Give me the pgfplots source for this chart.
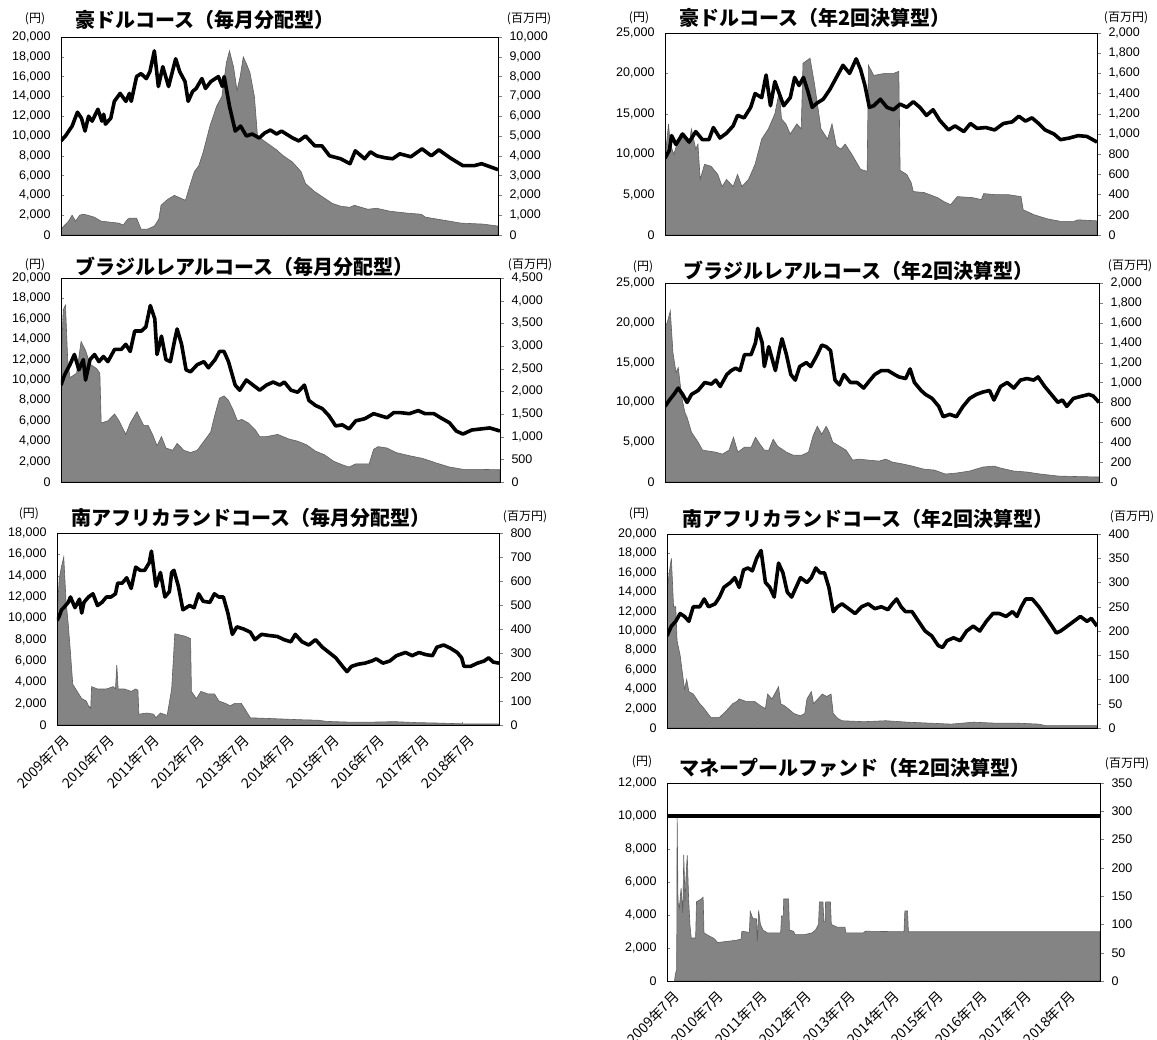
\documentclass[border=0pt]{standalone}
\usepackage{fontspec}
\setmainfont{Liberation Sans}
\newfontfamily\jp{Noto Sans CJK JP}
\usepackage{pgfplots}
\pgfplotsset{compat=1.18}
\definecolor{areagray}{RGB}{132,132,132}
\definecolor{edgegray}{RGB}{95,95,95}

\pgfplotsset{
  base/.style={scale only axis, xmin=0, xmax=9.83, ymin=0,
    axis line style={line width=0.7pt},
    tick label style={font=\fontsize{12.5}{12.5}\selectfont},
    scaled y ticks=false,
    /pgf/number format/1000 sep={,},
    /pgf/number format/assume math mode=true},
  areaax/.style={base, ytick pos=right, tick align=outside, xtick=\empty,
    major tick length=4pt, yticklabel style={xshift=4pt}},
  lineax/.style={base, ytick pos=left, xtick={0,...,9}, xtick pos=bottom,
    tick align=inside, major tick length=3pt, xticklabel={\mbox{}},
    yticklabel style={xshift=-7pt}},
  datelabels/.style={xticklabels={2009年7月,2010年7月,2011年7月,2012年7月,2013年7月,2014年7月,2015年7月,2016年7月,2017年7月,2018年7月},
    xticklabel style={font=\jp\fontsize{14}{14}\selectfont, xshift=5pt, yshift=-7pt,
      rotate=45, anchor=north east, inner sep=1pt}},
  area/.style={fill=areagray, draw=edgegray, line width=0.6pt},
  nav/.style={black, line width=3.6pt, line join=round},
}
\tikzset{
  ttl/.style={anchor=west, font=\jp\bfseries\fontsize{20}{20}\selectfont},
  unit/.style={font=\jp\fontsize{12}{12}\selectfont},
}

\begin{document}
\begin{tikzpicture}
\path[use as bounding box] (0,0) rectangle (1157pt,-1040pt);

% ---------- 1: AUD monthly
\begin{axis}[areaax, at={(61pt,-235pt)}, anchor=south west, width=437pt, height=198pt,
  ymax=10000, ytick={0,1000,...,10000}]
\addplot[area] coordinates {
(0,300)(0.17,700)(0.25,1000)(0.33,700)(0.42,1000)(0.5,1050)(0.6,1000)(0.75,900)(0.9,700)
(1.1,650)(1.3,600)(1.4,500)(1.5,800)(1.55,850)(1.7,850)(1.8,300)(1.95,300)(2.1,450)
(2.2,800)(2.25,1500)(2.4,1800)(2.55,2000)(2.8,1750)(2.9,2500)(3.0,3200)(3.1,3500)
(3.2,4200)(3.35,5500)(3.5,6500)(3.62,7000)(3.72,8700)(3.79,9300)(3.88,8500)(3.96,7300)
(4.03,8000)(4.1,9000)(4.18,8600)(4.25,8200)(4.35,7000)(4.42,5000)(4.6,4700)(4.85,4300)
(5.0,4000)(5.2,3700)(5.4,3200)(5.5,2600)(5.7,2200)(5.9,1900)(6.1,1600)(6.3,1450)
(6.5,1400)(6.6,1500)(6.9,1300)(7.1,1350)(7.4,1200)(7.8,1100)(8.1,1050)(8.2,900)
(8.6,750)(9.0,600)(9.5,550)(9.83,450)} \closedcycle;
\end{axis}
\begin{axis}[lineax, at={(61pt,-235pt)}, anchor=south west, width=437pt, height=198pt,
  ymax=20000, ytick={0,2000,...,20000}]
\addplot[nav] coordinates {
(0,9500)(0.1,10000)(0.25,11000)(0.37,12400)(0.46,11800)(0.54,10500)(0.62,12000)(0.7,11500)
(0.83,12700)(0.92,11500)(0.96,12200)(1.0,11200)(1.12,11800)(1.2,13500)(1.33,14300)
(1.46,13500)(1.54,14300)(1.58,13500)(1.7,16000)(1.8,16300)(1.92,15800)(2.0,16500)
(2.1,18600)(2.19,15000)(2.29,17000)(2.42,15000)(2.58,17800)(2.67,16500)(2.79,15500)
(2.86,13500)(2.96,14500)(3.04,14800)(3.17,15800)(3.25,14800)(3.37,15500)(3.54,16000)
(3.63,15000)(3.67,16000)(3.79,13000)(3.92,10500)(4.04,11000)(4.17,10000)(4.3,10200)
(4.46,9800)(4.58,10300)(4.71,10600)(4.85,10200)(4.96,10500)(5.21,9800)(5.35,9500)
(5.5,10000)(5.71,9000)(5.87,9000)(6.04,8000)(6.29,7700)(6.5,7200)(6.62,8500)(6.83,7700)
(6.96,8400)(7.1,8000)(7.29,7800)(7.46,7700)(7.62,8200)(7.87,7900)(8.12,8700)(8.33,8000)
(8.5,8600)(8.75,7800)(9.04,7000)(9.29,7000)(9.46,7200)(9.71,6800)(9.83,6600)};
\end{axis}
\node[ttl] at (72pt,-20pt) {豪ドルコース（毎月分配型）};
\node[unit] at (35pt,-19pt) {(円)};
\node[unit] at (529pt,-19pt) {(百万円)};

% ---------- 2: AUD semiannual
\begin{axis}[areaax, at={(665pt,-235pt)}, anchor=south west, width=432pt, height=202pt,
  ymax=2000, ytick={0,200,...,2000}]
\addplot[area] coordinates {
(0,750)(0.08,1100)(0.12,900)(0.2,800)(0.35,1000)(0.45,950)(0.55,900)(0.6,1050)(0.7,850)
(0.75,900)(0.8,550)(0.9,700)(1.05,680)(1.2,600)(1.3,480)(1.4,550)(1.55,480)(1.65,600)
(1.75,480)(1.9,550)(2.05,700)(2.2,950)(2.35,1050)(2.5,1200)(2.6,1420)(2.65,1150)
(2.75,1100)(2.85,1000)(3.0,1100)(3.1,1050)(3.14,1700)(3.3,1750)(3.4,1500)(3.55,1050)
(3.7,950)(3.8,1100)(3.9,880)(4.0,850)(4.1,900)(4.25,800)(4.45,650)(4.6,630)(4.63,1680)
(4.75,1580)(5.0,1600)(5.2,1600)(5.32,1620)(5.35,640)(5.5,600)(5.6,520)(5.65,430)
(5.9,420)(6.2,370)(6.35,330)(6.5,300)(6.65,380)(7.0,370)(7.2,350)(7.25,410)(7.5,400)
(7.8,400)(8.1,380)(8.15,250)(8.4,200)(8.7,160)(9.0,135)(9.3,135)(9.4,150)(9.83,140)} \closedcycle;
\end{axis}
\begin{axis}[lineax, at={(665pt,-235pt)}, anchor=south west, width=432pt, height=202pt,
  ymax=25000, ytick={0,5000,...,25000}]
\addplot[nav] coordinates {
(0,9500)(0.1,10500)(0.15,12300)(0.25,11200)(0.4,12500)(0.55,11500)(0.7,12800)(0.85,11800)
(1.0,11800)(1.1,13300)(1.25,12000)(1.4,12600)(1.55,13500)(1.65,14800)(1.8,14500)
(1.95,15800)(2.05,17500)(2.2,17000)(2.3,19800)(2.4,16000)(2.5,19000)(2.6,17500)
(2.7,16000)(2.85,17000)(2.95,19500)(3.05,18500)(3.15,19500)(3.25,17800)(3.35,15800)
(3.45,16300)(3.6,16800)(3.75,18000)(3.9,19500)(4.05,21000)(4.2,20000)(4.35,21800)
(4.45,20500)(4.55,18500)(4.65,15800)(4.75,16000)(4.9,16800)(5.05,15800)(5.2,15500)
(5.35,16200)(5.5,15800)(5.65,16500)(5.8,15800)(5.95,14800)(6.1,15500)(6.25,14200)
(6.45,13000)(6.6,13500)(6.8,12800)(6.95,13800)(7.1,13200)(7.3,13300)(7.5,13000)
(7.7,13800)(7.9,14000)(8.05,14700)(8.2,14100)(8.35,14500)(8.5,13800)(8.65,13000)
(8.85,12500)(9.0,11800)(9.2,12000)(9.4,12300)(9.6,12200)(9.83,11500)};
\end{axis}
\node[ttl] at (676pt,-18pt) {豪ドルコース（年2回決算型）};
\node[unit] at (639pt,-18pt) {(円)};
\node[unit] at (1126pt,-18pt) {(百万円)};

% ---------- 3: BRL monthly
\begin{axis}[areaax, at={(61pt,-482pt)}, anchor=south west, width=439pt, height=204pt,
  ymax=4500, ytick={0,500,...,4500}]
\addplot[area] coordinates {
(0,2500)(0.05,3800)(0.1,3900)(0.15,2700)(0.2,2300)(0.35,2400)(0.45,3100)(0.55,2900)
(0.65,2600)(0.8,2500)(0.87,2400)(0.9,1300)(1.05,1350)(1.2,1500)(1.3,1350)(1.45,1050)
(1.55,1300)(1.7,1550)(1.85,1250)(1.95,1250)(2.05,1050)(2.15,800)(2.25,1000)(2.35,750)
(2.5,700)(2.6,850)(2.75,700)(2.9,650)(3.05,700)(3.2,900)(3.35,1100)(3.45,1500)
(3.55,1850)(3.65,1900)(3.75,1800)(3.85,1600)(3.95,1350)(4.05,1380)(4.2,1300)(4.35,1150)
(4.45,1000)(4.6,1000)(4.85,1050)(5.1,950)(5.3,900)(5.5,820)(5.7,680)(5.9,600)(6.1,460)
(6.3,380)(6.45,330)(6.6,400)(6.9,400)(7.0,720)(7.1,780)(7.3,750)(7.5,650)(7.8,580)
(8.1,520)(8.4,420)(8.7,330)(9.0,280)(9.3,280)(9.83,270)} \closedcycle;
\end{axis}
\begin{axis}[lineax, at={(61pt,-482pt)}, anchor=south west, width=439pt, height=204pt,
  ymax=20000, ytick={0,2000,...,20000}]
\addplot[nav] coordinates {
(0,9500)(0.08,10500)(0.2,11500)(0.3,12500)(0.4,11000)(0.5,12000)(0.55,10000)(0.65,12000)
(0.75,12500)(0.85,11800)(0.95,12300)(1.05,11800)(1.2,13000)(1.35,13000)(1.45,13500)
(1.55,12800)(1.65,14800)(1.8,14800)(1.9,15200)(2.0,17300)(2.1,16000)(2.15,12500)
(2.25,14300)(2.35,12000)(2.45,11800)(2.55,14000)(2.6,15000)(2.7,13500)(2.8,11000)
(2.9,10800)(3.05,11500)(3.2,11800)(3.3,11200)(3.45,12000)(3.55,12800)(3.65,12800)
(3.75,11800)(3.9,9500)(4.0,9000)(4.15,10000)(4.3,9500)(4.45,9000)(4.6,9500)(4.75,9800)
(4.9,9500)(5.0,9800)(5.15,9000)(5.3,8800)(5.45,9500)(5.55,8000)(5.7,7500)(5.85,7200)
(6.0,6500)(6.15,5500)(6.3,5600)(6.45,5200)(6.6,6000)(6.8,6200)(7.0,6700)(7.15,6500)
(7.3,6300)(7.45,6800)(7.6,6800)(7.8,6700)(8.0,7000)(8.15,6700)(8.35,6700)(8.5,6300)
(8.7,5800)(8.85,5000)(9.0,4700)(9.2,5100)(9.4,5200)(9.6,5300)(9.83,5000)};
\end{axis}
\node[ttl] at (72pt,-267pt) {ブラジルレアルコース（毎月分配型）};
\node[unit] at (35pt,-265pt) {(円)};
\node[unit] at (530pt,-265pt) {(百万円)};

% ---------- 4: BRL semiannual
\begin{axis}[areaax, at={(665pt,-482pt)}, anchor=south west, width=434pt, height=199pt,
  ymax=2000, ytick={0,200,...,2000}]
\addplot[area] coordinates {
(0,1560)(0.05,1600)(0.12,1720)(0.18,1300)(0.25,1100)(0.3,1150)(0.38,850)(0.45,700)
(0.5,650)(0.6,500)(0.75,400)(0.85,320)(1.0,310)(1.15,300)(1.3,280)(1.45,320)(1.55,450)
(1.65,300)(1.8,350)(1.95,350)(2.05,450)(2.15,380)(2.25,320)(2.35,320)(2.45,430)
(2.55,360)(2.75,300)(2.9,270)(3.1,270)(3.25,300)(3.35,460)(3.45,560)(3.55,480)
(3.65,560)(3.72,500)(3.8,400)(3.95,360)(4.1,320)(4.25,220)(4.4,230)(4.6,220)(4.85,210)
(5.0,230)(5.15,200)(5.4,180)(5.6,160)(5.85,130)(6.1,120)(6.35,80)(6.6,90)(6.9,110)
(7.2,150)(7.45,160)(7.6,140)(7.9,110)(8.2,100)(8.5,80)(8.9,60)(9.3,55)(9.83,50)} \closedcycle;
\end{axis}
\begin{axis}[lineax, at={(665pt,-482pt)}, anchor=south west, width=434pt, height=199pt,
  ymax=25000, ytick={0,5000,...,25000}]
\addplot[nav] coordinates {
(0,9500)(0.1,10300)(0.2,11000)(0.3,11800)(0.4,11000)(0.5,10000)(0.6,11000)(0.75,11500)
(0.9,12500)(1.05,12300)(1.15,12800)(1.25,12000)(1.4,13500)(1.5,14000)(1.6,14300)
(1.7,14000)(1.8,16000)(1.95,16000)(2.05,17500)(2.1,19300)(2.2,17500)(2.25,14500)
(2.35,17000)(2.45,15000)(2.5,14000)(2.6,16800)(2.65,18000)(2.75,16000)(2.85,13500)
(2.95,12800)(3.05,14500)(3.2,15000)(3.3,14500)(3.45,16000)(3.55,17200)(3.65,17000)
(3.75,16500)(3.85,12800)(3.95,12200)(4.05,13500)(4.2,12500)(4.35,12500)(4.5,11800)
(4.6,12500)(4.75,13500)(4.9,14000)(5.05,14000)(5.2,13500)(5.3,13200)(5.45,13000)
(5.55,14200)(5.65,12500)(5.8,11500)(5.9,11000)(6.05,10500)(6.2,9500)(6.3,8200)
(6.45,8500)(6.6,8200)(6.75,9500)(6.9,10500)(7.05,11000)(7.2,11300)(7.35,11500)
(7.45,10300)(7.6,12000)(7.75,12500)(7.9,11800)(8.05,12800)(8.2,13000)(8.35,12800)
(8.45,13200)(8.6,12000)(8.75,11000)(8.9,10000)(9.0,10300)(9.1,9500)(9.25,10500)
(9.45,10800)(9.6,11000)(9.7,10800)(9.83,10000)};
\end{axis}
\node[ttl] at (680pt,-271pt) {ブラジルレアルコース（年2回決算型）};
\node[unit] at (643pt,-267pt) {(円)};
\node[unit] at (1130pt,-266pt) {(百万円)};

% ---------- 5: ZAR monthly
\begin{axis}[areaax, at={(57pt,-725pt)}, anchor=south west, width=442pt, height=192pt,
  ymax=800, ytick={0,100,...,800}]
\addplot[area] coordinates {
(0,450)(0.05,610)(0.1,660)(0.15,700)(0.2,520)(0.25,420)(0.3,300)(0.35,170)(0.45,140)
(0.55,110)(0.65,100)(0.7,80)(0.75,70)(0.77,160)(0.9,150)(1.1,150)(1.25,160)(1.3,150)
(1.33,250)(1.36,150)(1.5,150)(1.65,140)(1.75,150)(1.8,145)(1.82,45)(2.0,50)(2.15,45)
(2.2,30)(2.3,50)(2.45,40)(2.55,150)(2.62,380)(2.85,370)(2.97,360)(2.99,140)(3.1,110)
(3.2,140)(3.35,130)(3.5,130)(3.6,100)(3.75,90)(3.85,80)(3.95,90)(4.1,90)(4.2,60)
(4.3,30)(4.6,28)(5.0,25)(5.4,22)(5.8,20)(6.0,15)(6.5,12)(7.0,12)(7.5,14)(8.0,10)
(8.5,8)(9.0,5)(9.83,5)} \closedcycle;
\end{axis}
\begin{axis}[lineax, datelabels, at={(57pt,-725pt)}, anchor=south west, width=442pt, height=192pt,
  ymax=18000, ytick={0,2000,...,18000}]
\addplot[nav] coordinates {
(0,9800)(0.05,10200)(0.1,10800)(0.15,11000)(0.25,11500)(0.3,12000)(0.4,11000)(0.5,11800)
(0.55,10500)(0.6,11500)(0.7,12000)(0.8,12300)(0.9,11200)(1.0,11500)(1.1,12000)
(1.2,12000)(1.3,12300)(1.35,13300)(1.45,13300)(1.55,13800)(1.65,12800)(1.75,14800)
(1.85,14500)(1.95,14500)(2.05,15200)(2.1,16300)(2.2,13000)(2.3,14300)(2.4,12000)
(2.5,12500)(2.55,14300)(2.6,14500)(2.7,13000)(2.8,10800)(2.95,11200)(3.05,11000)
(3.15,12300)(3.25,11600)(3.4,11500)(3.5,12300)(3.6,12000)(3.7,12000)(3.8,10500)
(3.9,8500)(4.0,9200)(4.15,9000)(4.3,8700)(4.4,8000)(4.55,8500)(4.7,8400)(4.9,8300)
(5.05,8000)(5.2,7800)(5.3,8500)(5.45,7800)(5.6,7500)(5.75,8000)(5.9,7300)(6.05,6800)
(6.2,6300)(6.35,5500)(6.45,5000)(6.55,5500)(6.7,5700)(6.85,5800)(7.0,6000)(7.1,6200)
(7.25,5800)(7.4,6000)(7.55,6500)(7.75,6800)(7.9,6500)(8.05,6800)(8.2,6600)(8.35,6500)
(8.45,7300)(8.6,7500)(8.75,7200)(8.9,6800)(9.0,6300)(9.05,5500)(9.2,5500)(9.35,5800)
(9.5,6000)(9.6,6300)(9.7,5900)(9.83,5800)};
\end{axis}
\node[ttl] at (68pt,-518pt) {南アフリカランドコース（毎月分配型）};
\node[unit] at (29pt,-514pt) {(円)};
\node[unit] at (525pt,-517pt) {(百万円)};

% ---------- 6: ZAR semiannual
\begin{axis}[areaax, at={(667pt,-728pt)}, anchor=south west, width=430pt, height=194pt,
  ymax=400, ytick={0,50,...,400}]
\addplot[area] coordinates {
(0,280)(0.05,320)(0.1,350)(0.15,250)(0.2,250)(0.23,180)(0.3,150)(0.4,80)(0.45,100)
(0.5,75)(0.6,70)(0.75,50)(0.85,40)(1.0,22)(1.2,22)(1.35,35)(1.5,50)(1.6,55)(1.65,60)
(1.8,55)(2.0,55)(2.15,45)(2.25,40)(2.3,70)(2.4,60)(2.55,85)(2.6,50)(2.7,45)(2.9,30)
(3.05,25)(3.15,30)(3.2,60)(3.3,75)(3.35,50)(3.45,60)(3.55,70)(3.65,65)(3.75,70)
(3.8,30)(3.9,20)(4.0,15)(4.5,13)(5.0,15)(5.5,12)(6.0,10)(6.5,8)(7.0,12)(7.5,10)
(8.0,10)(8.5,8)(8.65,5)(9.83,5)} \closedcycle;
\end{axis}
\begin{axis}[lineax, at={(667pt,-728pt)}, anchor=south west, width=430pt, height=194pt,
  ymax=20000, ytick={0,2000,...,20000}]
\addplot[nav] coordinates {
(0,9500)(0.1,10500)(0.2,11000)(0.3,11800)(0.4,11500)(0.5,11000)(0.6,12500)(0.75,12500)
(0.85,13300)(0.95,12500)(1.1,12800)(1.2,13500)(1.3,14500)(1.45,15000)(1.55,15500)
(1.65,14500)(1.75,16300)(1.85,16500)(1.95,16200)(2.05,17500)(2.15,18300)(2.25,15000)
(2.35,14500)(2.45,13500)(2.55,17000)(2.65,16000)(2.75,14000)(2.85,13500)(2.95,14500)
(3.05,15500)(3.2,15000)(3.3,15500)(3.4,16500)(3.5,16000)(3.6,16000)(3.7,14500)
(3.8,12000)(3.9,12500)(4.0,12800)(4.15,12300)(4.3,11800)(4.45,12500)(4.6,12800)
(4.75,12300)(4.9,12500)(5.05,12200)(5.15,12800)(5.25,13300)(5.35,12500)(5.45,12000)
(5.6,12000)(5.75,11000)(5.9,10000)(6.05,9500)(6.2,8500)(6.3,8300)(6.4,9000)(6.55,9300)
(6.7,9000)(6.85,10000)(7.0,10500)(7.15,10000)(7.3,11000)(7.45,11800)(7.6,11800)
(7.75,11500)(7.9,12000)(8.0,11500)(8.1,12500)(8.2,13300)(8.35,13300)(8.5,12500)
(8.65,11500)(8.8,10500)(8.9,9800)(9.0,10000)(9.15,10500)(9.3,11000)(9.45,11500)
(9.6,11000)(9.7,11300)(9.83,10500)};
\end{axis}
\node[ttl] at (679pt,-519pt) {南アフリカランドコース（年2回決算型）};
\node[unit] at (639pt,-514pt) {(円)};
\node[unit] at (1132pt,-517pt) {(百万円)};

% ---------- 7: money pool
\begin{axis}[areaax, at={(667pt,-981pt)}, anchor=south west, width=433pt, height=198pt,
  ymax=350, ytick={0,50,...,350}]
\addplot[area] coordinates {
(0.17,0)(0.19,12)(0.22,20)(0.23,290)(0.25,140)(0.28,129)(0.32,164)(0.36,120)(0.38,223)
(0.41,140)(0.43,182)(0.46,222)(0.49,147)(0.52,100)(0.55,76)(0.65,76)(0.67,140)(0.78,145)
(0.82,148)(0.84,85)(0.95,80)(1.07,75)(1.15,68)(1.36,70)(1.57,72)(1.68,74)(1.70,88)
(1.87,86)(1.89,123)(1.95,110)(2.03,110)(2.05,70)(2.08,125)(2.12,100)(2.18,90)(2.28,85)
(2.58,85)(2.6,115)(2.64,115)(2.65,145)(2.76,145)(2.78,90)(2.87,88)(2.91,82)(3.12,82)
(3.29,85)(3.37,90)(3.44,100)(3.46,140)(3.54,140)(3.56,105)(3.59,105)(3.6,140)(3.71,140)
(3.73,100)(3.87,95)(4.04,95)(4.06,85)(4.46,85)(4.50,88)(5.38,87)(5.40,124)(5.46,124)
(5.48,87)(9.83,87)} \closedcycle;
\end{axis}
\begin{axis}[lineax, datelabels, at={(667pt,-981pt)}, anchor=south west, width=433pt, height=198pt,
  ymax=12000, ytick={0,2000,...,12000}]
\addplot[nav] coordinates {(0,10000)(9.83,10000)};
\end{axis}
\node[ttl] at (676pt,-768pt) {マネープールファンド（年2回決算型）};
\node[unit] at (642pt,-762pt) {(円)};
\node[unit] at (1127pt,-764pt) {(百万円)};

\end{tikzpicture}
\end{document}
